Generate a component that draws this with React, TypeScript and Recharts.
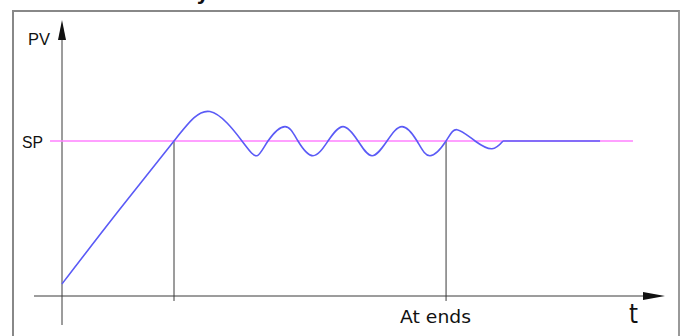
import React from 'react';
import { ComposedChart, Line, XAxis, YAxis, ReferenceLine, ReferenceDot } from 'recharts';

// Process variable response (time in arbitrary units, PV normalised so SP = 1)
const timeValues = [0, 0.5, 1, 1.321, 1.607, 1.741, 1.839, 1.991, 2.107, 2.241, 2.375, 2.509, 2.643, 2.768, 2.902, 3.036, 3.17, 3.286, 3.429, 3.527, 3.688, 3.839, 3.938];
const pvValues = [0.078, 0.545, 1, 1.19, 1, 0.905, 1, 1.093, 1, 0.905, 1, 1.093, 1, 0.905, 1, 1.093, 1, 0.905, 1, 1.073, 1, 0.95, 1];

// Settled tail (PV stays on SP)
const tailTimes = [3.938, 4.804];
const tailValues = [1, 1];

// Set point line
const spTimes = [-0.107, 5.098];
const setPoint = 1;

// Marker times (vertical drop lines) and their labels
const markerTimes = [1, 3.429];
const markerLabels = ['', 'At ends'];

const axisTitles = { y: 'PV', x: 't', sp: 'SP' };

const data = timeValues.map((t, i) => ({ t, pv: pvValues[i] }));
const tailData = tailTimes.map((t, i) => ({ t, pv: tailValues[i] }));
const spData = spTimes.map((t) => ({ t, sp: setPoint }));

const AXIS = '#3a3a3a';
const BLUE = '#5b5bf6';

const textShape = (label: string, opts: { anchor: string; size: number; family: string; len?: number }) =>
  (props: any) => (
    <text
      x={props.cx}
      y={props.cy}
      textAnchor={opts.anchor}
      fontSize={opts.size}
      fontFamily={opts.family}
      fill="#111"
      {...(opts.len ? { textLength: opts.len, lengthAdjust: 'spacingAndGlyphs' } : {})}
    >
      {label}
    </text>
  );

const upArrow = (props: any) => (
  <polygon points={`${props.cx},${props.cy} ${props.cx - 4},${props.cy + 20} ${props.cx + 4},${props.cy + 20}`} fill="#111" />
);
const rightArrow = (props: any) => (
  <polygon points={`${props.cx},${props.cy} ${props.cx - 22},${props.cy - 4} ${props.cx - 22},${props.cy + 4}`} fill="#111" />
);

export default function App() {
  return (
    <div style={{ position: 'fixed', left: 0, top: 0, width: 680, height: 336, overflow: 'hidden', background: '#fff' }}>
      <div
        style={{
          position: 'absolute',
          left: 196,
          top: -17,
          fontFamily: 'DejaVu Sans',
          fontWeight: 'bold',
          fontSize: 20,
          lineHeight: '20px',
          color: '#111',
        }}
      >
        y
      </div>
      <div
        style={{
          position: 'absolute',
          left: 12,
          top: 10,
          width: 668,
          height: 400,
          boxSizing: 'border-box',
          borderTop: '2px solid #888',
          borderLeft: '2px solid #888',
          borderRight: '2px solid #999',
        }}
      />
      <div style={{ position: 'absolute', left: 0, top: 0 }}>
        <ComposedChart width={680} height={336} data={data} margin={{ top: 24.75, right: 2, bottom: 1.25, left: 6 }}>
          <XAxis type="number" dataKey="t" domain={[-0.5, 5.5]} hide allowDataOverflow />
          <YAxis type="number" domain={[-0.25, 1.75]} hide allowDataOverflow />
          {/* axes */}
          <ReferenceLine segment={[{ x: 0, y: -0.187 }, { x: 0, y: 1.66 }]} stroke={AXIS} strokeWidth={1} ifOverflow="visible" />
          <ReferenceLine segment={[{ x: -0.25, y: 0 }, { x: 5.2, y: 0 }]} stroke={AXIS} strokeWidth={1} ifOverflow="visible" />
          {/* marker drop lines */}
          {markerTimes.map((mt) => (
            <ReferenceLine key={mt} segment={[{ x: mt, y: -0.032 }, { x: mt, y: setPoint }]} stroke={AXIS} strokeWidth={1} ifOverflow="visible" />
          ))}
          <Line data={spData} type="linear" dataKey="sp" stroke="#ff80ff" strokeWidth={1.5} dot={false} isAnimationActive={false} />
          <Line data={data} type="natural" dataKey="pv" stroke={BLUE} strokeWidth={1.6} dot={false} isAnimationActive={false} />
          <Line data={tailData} type="linear" dataKey="pv" stroke={BLUE} strokeWidth={1.6} dot={false} isAnimationActive={false} />
          <ReferenceDot x={0} y={1.78} r={0} ifOverflow="visible" shape={upArrow} />
          <ReferenceDot x={5.384} y={0} r={0} ifOverflow="visible" shape={rightArrow} />
          <ReferenceDot x={-0.107} y={1.619} r={0} ifOverflow="visible" shape={textShape(axisTitles.y, { anchor: 'end', size: 16, family: 'Liberation Sans', len: 22 })} />
          <ReferenceDot x={-0.17} y={0.955} r={0} ifOverflow="visible" shape={textShape(axisTitles.sp, { anchor: 'end', size: 16, family: 'Liberation Sans', len: 21 })} />
          <ReferenceDot x={3.335} y={-0.174} r={0} ifOverflow="visible" shape={textShape(markerLabels[1], { anchor: 'middle', size: 17, family: 'DejaVu Sans', len: 71 })} />
          <ReferenceDot x={5.103} y={-0.174} r={0} ifOverflow="visible" shape={textShape(axisTitles.x, { anchor: 'middle', size: 26, family: 'DejaVu Sans', len: 9 })} />
        </ComposedChart>
      </div>
    </div>
  );
}
